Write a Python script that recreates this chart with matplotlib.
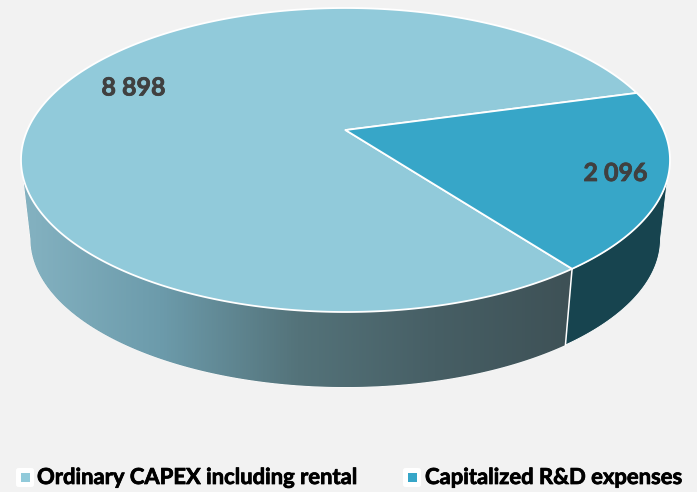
"""3D-style pie of CAPEX split, drawn by hand on a pixel-sized axes."""

import matplotlib
matplotlib.use("Agg")
import matplotlib.pyplot as plt
import matplotlib.patheffects as pe
import numpy as np
from matplotlib.colors import LinearSegmentedColormap
from matplotlib.patches import FancyBboxPatch, Polygon, Rectangle

categories = ["Ordinary CAPEX including rental", "Capitalized R&D expenses"]
values = [8898, 2096]
value_labels = ["8 898", "2 096"]

BG = "#F2F2F2"
TOP_COLORS = ["#91CADA", "#37A6C8"]
WALL_DARK = "#17444F"
TEXT_GREY = "#404040"

# Ellipses for the top face and the bottom rim, in pixels
CX, CY, RX, RY = 345.5, 160.0, 324.5, 152.0
BOT_CY, BOT_RX, BOT_RY = 239.0, 315.0, 148.0
TILT = 0.197       # how far the pie centre shifts to the back under perspective
START_ANGLE = 15.5  # degrees, slices run clockwise from here


def persp(phi):
    """Map flat-circle angles (deg) to (x, y) on the unit circle under perspective."""
    phi = np.radians(phi)
    x, y = np.cos(phi), np.sin(phi)
    denom = 1 + TILT * y
    return x * np.sqrt(1 - TILT ** 2) / denom, (y + TILT) / denom


def top_xy(phi):
    x, y = persp(phi)
    return np.column_stack([CX + RX * x, CY - RY * y])


def bot_xy(phi):
    x, y = persp(phi)
    return np.column_stack([CX + BOT_RX * x, BOT_CY - BOT_RY * y])


def ellipse_arc(cy, rx, ry, a0, a1, n=200):
    t = np.radians(np.linspace(a0, a1, n))
    return np.column_stack([CX + rx * np.cos(t), cy - ry * np.sin(t)])


def heavy_text(x, y, text, color, size, **kwargs):
    """Bold label thickened a little with a same-colour stroke."""
    t = ax.text(x, y, text, color=color, fontsize=size, fontweight="bold", family="Lato",
                zorder=7, **kwargs)
    t.set_path_effects([pe.withStroke(linewidth=0.55, foreground=color)])
    return t


fig = plt.figure(figsize=(6.97, 4.92), dpi=100, facecolor=BG)
ax = fig.add_axes([0, 0, 1, 1])
ax.set_xlim(0, 697)
ax.set_ylim(492, 0)
ax.axis("off")

# Slice boundaries: first slice ends up wrapping round the back
sweep = 360 * np.array(values) / sum(values)
boundary = START_ANGLE - sweep[1]
apex = np.array([[CX, CY - RY * TILT]])

# Side wall, from the left silhouette round the front to the right one
wall_outline = np.vstack([
    ellipse_arc(CY, RX, RY, 187, 353),
    ellipse_arc(BOT_CY, BOT_RX, BOT_RY, 360, 180),
])
ax.add_patch(Polygon(wall_outline, closed=True, facecolor=WALL_DARK, edgecolor="white",
                     linewidth=0.6, zorder=1))

# Left part of the wall has a horizontal gradient, right part stays flat and dark
split_top = top_xy(boundary)[0]
split_bot = bot_xy(boundary)[0]
wall_cmap = LinearSegmentedColormap.from_list(
    "wall", ["#84B2C1", "#6C9BAB", "#54737A", "#475F65", "#3E5156"]
)
grad = np.linspace(0, 1, 512).reshape(1, -1)
img = ax.imshow(grad, cmap=wall_cmap, extent=(23, split_bot[0] + 6, 492, 0),
                aspect="auto", zorder=2)

t_split_top = np.degrees(np.arctan2(-(split_top[1] - CY) / RY, (split_top[0] - CX) / RX)) % 360
t_split_bot = np.degrees(np.arctan2(-(split_bot[1] - BOT_CY) / BOT_RY,
                                    (split_bot[0] - CX) / BOT_RX)) % 360
left_wall = np.vstack([
    ellipse_arc(CY, RX, RY, 187, t_split_top),
    ellipse_arc(BOT_CY, BOT_RX, BOT_RY, t_split_bot, 180),
])
clip_patch = Polygon(left_wall, closed=True, transform=ax.transData, facecolor="none",
                     edgecolor="none")
ax.add_patch(clip_patch)
img.set_clip_path(clip_patch)
ax.set_xlim(0, 697)
ax.set_ylim(492, 0)

ax.plot([split_top[0], split_bot[0]], [split_top[1], split_bot[1]], color="white", lw=1.1,
        zorder=3)

# Top face: the two slices with white borders
angles_big = np.linspace(START_ANGLE, START_ANGLE + sweep[0], 500)
angles_small = np.linspace(boundary, START_ANGLE, 200)
for angles, color, z in [(angles_big, TOP_COLORS[0], 4), (angles_small, TOP_COLORS[1], 5)]:
    pts = np.vstack([apex, top_xy(angles)])
    ax.add_patch(Polygon(pts, closed=True, facecolor=color, edgecolor="white", linewidth=1.3,
                         joinstyle="round", zorder=z))

# Value labels
label_pos = [(133.5, 88), (615.5, 173.5)]
for (x, y), text in zip(label_pos, value_labels):
    heavy_text(x, y, text, TEXT_GREY, 18, ha="center", va="center")

# Legend
legend_box_x = [16, 403]
legend_text_x = [37, 425]
for bx, tx, color, name in zip(legend_box_x, legend_text_x, TOP_COLORS, categories):
    ax.add_patch(FancyBboxPatch((bx + 2, 470), 14, 15, boxstyle="round,pad=2,rounding_size=2.5",
                                facecolor="white", edgecolor="none", zorder=6))
    ax.add_patch(Rectangle((bx + 5, 473), 8.5, 9, facecolor=color, edgecolor="none", zorder=7))
    heavy_text(tx, 484, name, "black", 15.85, ha="left", va="baseline")

fig.savefig("out.png", dpi=100, facecolor=BG)
